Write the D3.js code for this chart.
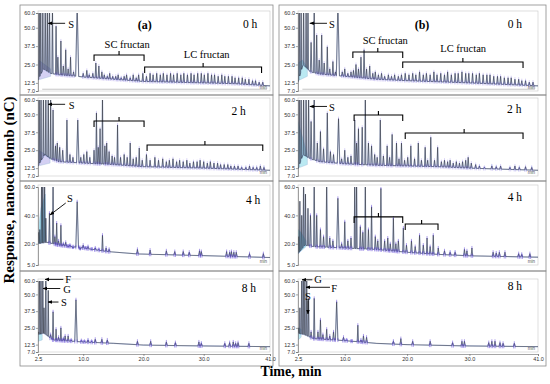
<!DOCTYPE html>
<html><head><meta charset="utf-8">
<script src="https://cdn.jsdelivr.net/npm/d3@7"></script>
<style>body{margin:0;background:#fff}svg{display:block}</style>
</head><body><svg width="550" height="384"></svg>
<script>
// axis ticks
const xTicks = [2.5, 10, 20, 30, 41];
const yTicks = [7, 12.5, 25, 37.5, 50, 60];
const yTicks4h = [5, 20, 40, 60];

// peaks: [time (min), response (nC), half width]
const peaksA0 = [[2.7,70,0.08],[2.95,70,0.08],[3.3,66,0.08],[3.7,70,0.1],[4.05,62,0.08],[4.4,70,0.1],[4.9,64,0.1],[5.5,51,0.1],[5.8,30],[6.3,41,0.1],[6.7,24],[7.1,35,0.1],[7.5,22],[7.9,30,0.1],[8.4,20],[9.0,66,0.25],
  [10.0,19],[10.6,21],[11.0,18],[11.6,19],[12.1,26],[12.6,24],[13.1,20],[13.5,18],[14.0,17],[14.4,19],[14.9,17],[15.4,17],[15.8,18],[16.3,16],[16.8,17],[17.2,18],[17.8,16],[18.3,18],[18.8,16],[19.2,18],
  [19.9,19],[20.5,17],[21.1,19],[21.6,18],[22.2,19],[22.8,18],[23.3,19],[23.9,18],[24.5,19],[25.0,18],[25.6,19],[26.2,18],[26.7,19],[27.3,18],[27.9,19],[28.4,18],[29.0,19],[29.6,19],[30.1,18],[30.7,19],[31.3,18],[31.8,18],[32.4,17],[33.0,18],[33.5,17],[34.1,17],[34.7,17],[35.2,16],[35.8,16],[36.4,16],[36.9,15],[37.5,15],[38.1,14],[38.6,14],[39.2,13],[39.8,13]];
const baseA0 = [[2.5,14.5],[3.4,22],[4.6,19],[6,18],[9,17],[10,16.5],[15,15],[20,13.5],[30,12.5],[35,12],[41,10.5]];
const fillA0 = [[2.5,14.5],[2.6,28],[4.6,22],[4.6,17]];

const peaksB0 = [[2.7,70,0.08],[3.0,70,0.08],[3.4,70,0.08],[3.8,66,0.08],[4.1,70,0.08],[4.6,40],[5.1,66,0.1],[5.5,45,0.1],[5.9,28],[6.3,45,0.1],[6.7,26],[7.2,37,0.1],[7.6,22],[8.1,27,0.1],[8.5,20],[8.9,66,0.25],
  [9.6,20],[10.0,22],[10.5,19],[11.0,20],[11.4,21],[11.8,25],[12.2,22],[12.6,30],[13.1,35],[13.5,22],[14.0,24],[14.5,19],[14.9,20],[15.4,18],[15.9,19],[16.4,17],[17.0,18],[17.5,17],[18.0,18],[18.6,17],[19.1,18],
  [19.7,19],[20.3,18],[20.9,19],[21.4,18],[22.0,20],[22.6,18],[23.1,19],[23.7,18],[24.3,20],[24.8,18],[25.4,19],[26.0,18],[26.5,20],[27.1,18],[27.7,19],[28.2,19],[28.8,20],[29.4,19],[29.9,19],[30.5,19],[31.1,18],[31.6,19],[32.2,18],[32.8,18],[33.3,18],[33.9,17],[34.5,17],[35.0,17],[35.6,16],[36.2,16],[36.7,16],[37.3,15],[37.9,15],[38.4,14],[39.0,14],[39.6,13],[40.2,13]];
const baseB0 = [[2.5,13],[3.3,25],[4.5,20],[6,18.5],[10,17],[15,15],[20,14],[30,12.5],[41,10.5]];
const fillB0 = [[2.5,14],[2.5,26],[3.2,28],[4.0,23],[4.0,17]];

const peaksA1 = [[2.7,70,0.08],[3.0,70,0.08],[3.4,70,0.08],[3.8,70,0.08],[4.2,66,0.08],[4.6,60,0.08],[5.0,53,0.1],[5.4,28],[5.7,30],[6.1,27],[6.6,25],[7.3,46,0.12],[7.8,22],[8.3,20],[9.1,46,0.2],[9.6,20],[10.1,22],[10.6,24],[11.1,20],[11.8,25],[12.2,51,0.1],[12.5,27],[12.8,40,0.1],[13.2,66,0.08],[13.6,28],[13.9,30],[14.3,24],[14.8,21],[15.2,20],[15.7,42.6,0.1],[16.2,20],[16.8,22],[17.3,20],[17.8,30,0.1],[18.3,19],[18.8,20],[19.3,26.5,0.1],[19.8,18],
  [20.5,22],[21.1,18],[21.9,20],[22.5,18],[23.2,19],[23.8,17],[24.3,18],[24.9,19],[25.5,17],[26.0,18],[26.6,17],[27.2,18],[27.7,16],[28.3,17],[28.9,17],[29.4,18],[30.0,17],[30.6,16],[31.1,17],[31.7,16],[32.3,16],[32.8,15],[33.4,15],[34.0,15],[34.5,14],[35.1,14],[35.7,14],[36.3,13],[37.0,13],[37.6,14],[38.2,13],[38.8,13],[39.4,14],[40.0,13]];
const baseA1 = [[2.5,14],[3.6,22],[4.6,19],[6,17],[10,16],[15,15],[20,13.5],[30,12.5],[41,11]];
const fillA1 = [[2.5,14],[2.6,25],[4.5,20],[4.5,16]];

const peaksB1 = [[2.7,70,0.08],[3.0,70,0.08],[3.4,70,0.08],[3.8,70,0.08],[4.2,66,0.08],[4.6,45],[5.1,66,0.1],[5.6,30],[6.1,38,0.1],[6.6,26],[7.2,51,0.12],[7.7,24],[8.2,22],[9.0,47,0.2],[9.5,19],[10.0,25],[10.5,20],[11.0,21],[11.6,46,0.1],[11.9,30],[12.2,40,0.1],[12.8,41,0.1],[13.3,66,0.08],[13.8,30],[14.3,28],[14.8,22],[15.2,20],[15.7,46,0.1],[16.2,21],[16.8,28,0.1],[17.2,20],[17.6,36,0.1],[18.3,30,0.1],[18.7,19],[19.1,30,0.1],[19.6,18],
  [20.1,20],[20.6,28,0.1],[21.2,19],[21.8,30,0.1],[22.3,18],[22.9,27,0.1],[23.3,18],[23.8,34,0.1],[24.4,18],[24.9,27,0.1],[25.5,17],[26.0,18],[26.5,17],[26.9,18],[27.4,16],[27.9,17],[28.4,16],[28.9,17],[29.4,18],[29.8,20],[30.3,16],[31.0,15],[31.6,14],[32.4,13],[33.6,14],[34.3,13.5],[35.0,14],[36.5,13],[37.3,14],[38.0,13],[39.0,13.5],[40.0,13]];
const baseB1 = [[2.5,12],[3.3,22],[4.5,19],[6,17],[10,15.5],[15,14.5],[20,14],[25,13.5],[30,12.5],[41,11]];
const fillB1 = [[2.5,12.5],[2.5,45],[4.0,22],[4.0,15]];

const peaksA2 = [[2.6,28,0.08],[2.8,30,0.08],[3.1,70,0.08],[3.3,70,0.08],[3.6,66,0.08],[3.8,38,0.08],[4.4,41.5,0.1],[5.0,66,0.1],[5.3,25],[5.6,34.6,0.1],[5.9,22],[6.3,33,0.1],[6.7,20],[7.1,21],[7.5,18],[7.8,19],[8.3,17],[9.0,49.6,0.22],[9.5,16],[10.0,19],[10.4,17],[10.8,18],[11.4,16],[12.0,17],[12.6,16],[13.2,26,0.1],[13.8,17],[14.3,16],
  [19.0,16],[21.1,15.5],[23.8,15],[25.2,14.5],[26.6,14.5],[27.6,14],[29.3,15],[29.6,14.5],[33.8,14.5],[34.3,14],[34.6,14.5],[35.0,14],[35.4,14],[37.6,13],[39.9,13]];
const baseA2 = [[2.5,20],[4,21],[6,19],[8,18],[10,17],[14,14.5],[19,12.8],[30,11.6],[41,10.3]];
const fillA2 = [[2.6,20],[2.7,35],[3.0,45],[3.7,55],[3.8,22]];

const peaksB2 = [[2.6,25,0.08],[2.8,50,0.08],[3.1,40,0.08],[3.4,70,0.08],[3.7,55,0.08],[4.1,45,0.08],[4.5,40],[5.1,66,0.1],[5.5,40,0.1],[6.1,30,0.1],[6.6,25],[7.1,66,0.1],[7.6,24],[8.1,22],[8.9,52,0.2],[9.5,20],[10.0,35.5,0.1],[10.5,22],[11.0,24],[11.6,66,0.08],[11.9,66,0.08],[12.5,32,0.1],[12.9,28],[13.3,66,0.08],[13.8,30,0.1],[14.3,46,0.1],[14.9,25],[15.3,22],[15.8,59,0.1],[16.4,22],[16.9,24],[17.3,20],[17.8,38,0.1],[18.2,20],[18.6,22],[19.4,31,0.1],[19.9,19],
  [20.7,22],[21.3,18],[22.0,26,0.1],[22.6,19],[23.2,24,0.1],[23.7,18],[24.2,26,0.1],[25.0,17],[26.0,15],[26.9,14],[27.7,14],[29.2,16],[29.6,15],[30.4,17],[33.8,14],[34.3,13.5],[34.8,14],[35.7,14],[37.9,13],[38.4,12.5],[39.7,13]];
const baseB2 = [[2.5,13],[3.6,19],[5,18],[10,17],[15,16],[20,14],[25,12.5],[30,11.5],[41,10.5]];
const fillB2 = [[2.5,13],[2.5,30],[3.0,28],[3.8,22],[3.8,18]];

const peaksA3 = [[2.6,22,0.06],[2.75,70,0.08],[3.0,70,0.08],[3.3,70,0.08],[3.5,40,0.08],[3.8,62,0.08],[4.2,53,0.08],[4.6,20],[5.0,37,0.1],[5.5,24,0.08],[5.9,18],[6.3,25,0.1],[6.7,17],[7.0,19],[7.5,19],[8.0,16],[8.8,46,0.2],[9.7,15.5],[10.2,15],[10.8,16],[11.4,15],[12.0,16.5],[13.1,16.5],[14.0,16],
  [19.0,15],[21.2,15],[23.8,14.5],[25.3,14],[29.2,14.5],[29.6,13.5],[33.5,13.5],[34.3,14],[34.9,14.5],[35.3,13.5],[35.7,14],[37.5,13.5]];
const baseA3 = [[2.5,20],[3.5,21],[5,16],[10,14.5],[15,13.5],[20,12.2],[30,11.5],[41,11]];
const fillA3 = [[2.5,15],[2.6,22],[3.2,20],[3.2,16]];

const peaksB3 = [[2.6,25,0.06],[2.8,40,0.06],[3.1,70,0.08],[3.35,70,0.08],[3.6,70,0.08],[3.9,60,0.08],[4.2,47,0.08],[4.6,22],[5.1,47,0.1],[5.7,22],[6.1,31,0.1],[6.5,20],[7.1,24,0.1],[7.6,19],[8.2,22],[8.7,44.5,0.2],[9.8,18],[10.3,16],[11.1,15],[12.1,27,0.1],[12.6,16],[13.0,19],[13.5,18],
  [17.8,15],[19.0,17],[20.9,15],[23.7,15],[27.3,14],[28.8,15],[29.2,15],[33.1,14],[33.6,15],[34.1,15],[34.9,14],[35.4,13.5],[37.2,13.5]];
const baseB3 = [[2.5,21],[3.5,20],[5,17],[10,15.5],[15,13.5],[20,12.5],[30,11.5],[41,11]];
const fillB3 = [[2.5,16],[2.6,25],[3.0,24],[3.0,18]];

const svg = d3.select("svg");
const serif = "'Liberation Serif', 'DejaVu Serif', serif";
const W0 = 0.12; // default peak half width, min

const cols = [{x0: 38, x1: 270, fx: 20, fw: 253}, {x0: 298, x1: 538, fx: 279, fw: 267}];
const rows = [{y0: 13, y1: 91, fy: 5, fh: 90}, {y0: 100, y1: 176, fy: 95, fh: 86},
              {y0: 187, y1: 265, fy: 181, fh: 90}, {y0: 281, y1: 352, fy: 271, fh: 95}];

// annotations in data units: text [label, t, v], arrows [t0, v0, t1, v1], brackets [t0, t1, v]
const panels = [
  {c: 0, r: 0, peaks: peaksA0, base: baseA0, fill: fillA0, fillColor: "#c9c4f0", ticks: yTicks, gray: true,
   text: [["S", 8.0, 52.5], ["0 h", 37.7, 52.5], ["SC fructan", 17.3, 39], ["LC fructan", 30.5, 32]], bold: [["(a)", 20.2, 51.8]],
   arrows: [[7.0, 53, 4.2, 53]], brackets: [[11.8, 20.1, 31.5], [20.2, 39.6, 23.3]]},
  {c: 1, r: 0, peaks: peaksB0, base: baseB0, fill: fillB0, fillColor: "#a9e4ef", ticks: yTicks, gray: true,
   text: [["S", 7.95, 52.5], ["0 h", 37.3, 52.5], ["SC fructan", 16.5, 41.7], ["LC fructan", 29.0, 36.2]], bold: [["(b)", 22.4, 51.8]],
   arrows: [[7.15, 53, 4.4, 53]], brackets: [[11.3, 19.3, 33.5], [19.3, 38.6, 26.7]]},
  {c: 0, r: 1, peaks: peaksA1, base: baseA1, fill: fillA1, fillColor: "#c9c4f0", ticks: yTicks,
   text: [["S", 8.1, 56.5], ["2 h", 35.8, 52.3]], bold: [],
   arrows: [[7.0, 57, 4.2, 57]], brackets: [[11.8, 20.1, 45.4], [20.6, 39.8, 28.6]]},
  {c: 1, r: 1, peaks: peaksB1, base: baseB1, fill: fillB1, fillColor: "#a9e4ef", ticks: yTicks,
   text: [["S", 7.95, 55], ["2 h", 37.2, 53.7]], bold: [],
   arrows: [[7.15, 55.5, 4.4, 55.5]], brackets: [[11.5, 19.3, 49.5], [19.7, 38.6, 37]]},
  {c: 0, r: 2, peaks: peaksA2, base: baseA2, fill: fillA2, fillColor: "#8fdde9", ticks: yTicks4h,
   text: [["S", 7.8, 52.2], ["4 h", 38.2, 50.8]], bold: [],
   arrows: [[7.1, 48.7, 4.5, 40.3]], brackets: []},
  {c: 1, r: 2, peaks: peaksB2, base: baseB2, fill: fillB2, fillColor: "#8fdde9", ticks: yTicks4h,
   text: [["4 h", 37.3, 53]], bold: [],
   arrows: [], brackets: [[11.5, 19.3, 38.9], [19.7, 24.96, 33.9]]},
  {c: 0, r: 3, peaks: peaksA3, base: baseA3, fill: fillA3, fillColor: "#a9e4ef", ticks: yTicks, xAxis: true,
   text: [["F", 7.5, 61.6], ["G", 7.3, 53.6], ["S", 6.8, 43.8], ["8 h", 37.5, 54.8]], bold: [],
   arrows: [[6.7, 61.2, 3.66, 61.2], [6.2, 54.4, 3.33, 54.4], [5.9, 44.3, 4.16, 44.3]], brackets: []},
  {c: 1, r: 3, peaks: peaksB3, base: baseB3, fill: fillB3, fillColor: "#a9e4ef", ticks: yTicks, xAxis: true,
   text: [["G", 5.7, 60.9], ["F", 8.3, 54.4], ["S", 4.1, 48.3], ["8 h", 37.3, 56]], bold: [],
   arrows: [[4.8, 60.9, 3.14, 60.9], [7.63, 55.3, 3.78, 55.3], [4.1, 45.6, 4.1, 35.4]], brackets: []}
];

// arrow head
svg.append("defs").append("marker")
  .attr("id", "ah").attr("viewBox", "0 0 10 10").attr("refX", 9).attr("refY", 5)
  .attr("markerWidth", 5).attr("markerHeight", 5).attr("orient", "auto")
  .append("path").attr("d", "M0,1L10,5L0,9Z").attr("fill", "#000");

panels.forEach((p, i) => {
  const c = cols[p.c], r = rows[p.r];
  const x = d3.scaleLinear().domain([2.5, 41]).range([c.x0, c.x1]);
  const y = d3.scaleLinear().domain([p.ticks[0], 60]).range([r.y1, r.y0]);
  const g = svg.append("g");

  // panel frame and plot box
  g.append("rect").attr("x", c.fx).attr("y", r.fy).attr("width", c.fw).attr("height", r.fh)
    .attr("fill", "none").attr("stroke", "#8a8a8a").attr("stroke-width", 0.8);
  g.append("rect").attr("x", c.x0).attr("y", r.y0 - 2).attr("width", c.x1 - c.x0).attr("height", r.y1 - r.y0 + 2)
    .attr("fill", "none").attr("stroke", "#c8c8c8").attr("stroke-width", 0.6);

  g.append("clipPath").attr("id", "clip" + i).append("rect")
    .attr("x", c.x0).attr("y", r.y0).attr("width", c.x1 - c.x0).attr("height", r.y1 - r.y0);
  const plot = g.append("g").attr("clip-path", `url(#clip${i})`);

  // build trace from baseline knots and peaks
  const baseAt = d3.scaleLinear().domain(p.base.map(d => d[0])).range(p.base.map(d => d[1])).clamp(true);
  const pts = [];
  p.peaks.forEach(([t, h, w = W0]) => {
    pts.push([t - w, baseAt(t - w)], [t, h], [t + w, baseAt(t + w)]);
  });
  p.base.forEach(([t, v]) => {
    if (!p.peaks.some(([pt, , w = W0]) => Math.abs(pt - t) < w + 0.05)) pts.push([t, v]);
  });
  pts.sort((a, b) => a[0] - b[0]);
  const line = d3.line().x(d => x(d[0])).y(d => y(d[1]));

  if (p.gray) {
    plot.append("line").attr("x1", x(3.2)).attr("x2", x(40.5)).attr("y1", y(8.2)).attr("y2", y(8.2))
      .attr("stroke", "#c4c4c4").attr("stroke-width", 1);
  }
  plot.append("path").datum(p.fill).attr("d", line.curve(d3.curveLinearClosed))
    .attr("fill", p.fillColor).attr("fill-opacity", 0.8).attr("stroke", "#9ab8d8").attr("stroke-width", 0.4);
  line.curve(d3.curveLinear);

  plot.append("path").datum(pts).attr("d", line)
    .attr("fill", "none").attr("stroke", "#6b8be0").attr("stroke-opacity", 0.45).attr("stroke-width", 1.2);
  plot.append("path").datum(pts).attr("d", line)
    .attr("fill", "none").attr("stroke", "#222").attr("stroke-width", 0.5);

  // peak markers
  const marks = p.peaks.filter(d => d[1] < 60 && d[0] > 4.3);
  plot.selectAll(".pm").data(marks).enter().append("path")
    .attr("d", ([t, h, w = W0]) => {
      const a = x(t - w), b = x(t + w), yb = y(baseAt(t));
      return `M${a},${yb - 2}V${yb + 2}M${b},${yb - 2}V${yb + 2}M${x(t)},${y(h) - 2}V${y(h) + 1}`;
    })
    .attr("stroke", "#5a3fd6").attr("stroke-width", 0.6).attr("fill", "none")
    .attr("opacity", p.r >= 2 ? 0.85 : 0.4);

  // axes
  const ya = g.append("g").attr("transform", `translate(${c.x0},0)`)
    .call(d3.axisLeft(y).tickValues(p.ticks).tickSize(2).tickPadding(1).tickFormat(d3.format(".1f")));
  ya.selectAll("text").attr("font-size", 5.5).attr("font-family", "'Liberation Sans', Arial, sans-serif").attr("fill", "#333");
  ya.selectAll("line, path").attr("stroke", "#666").attr("stroke-width", 0.6);

  if (p.xAxis) {
    const xa = g.append("g").attr("transform", `translate(0,${r.y1 + 2})`)
      .call(d3.axisBottom(x).tickValues(xTicks).tickSize(2).tickPadding(1).tickFormat(d3.format(".1f")));
    xa.selectAll("text").attr("font-size", 5.5).attr("font-family", "'Liberation Sans', Arial, sans-serif").attr("fill", "#333");
    xa.selectAll("line, path").attr("stroke", "#666").attr("stroke-width", 0.6);
  }

  g.append("text").attr("x", c.x1 - 3).attr("y", r.y1 - 2).attr("text-anchor", "end")
    .attr("font-size", 4.5).attr("font-family", "'Liberation Sans', sans-serif").attr("fill", "#555").text("min");

  // annotations
  p.brackets.forEach(([t0, t1, v]) => {
    const a = x(t0), b = x(t1), yy = y(v), m = (a + b) / 2;
    g.append("path").attr("d", `M${a},${yy + 6}V${yy}H${b}V${yy + 6}M${m},${yy}V${yy - 4}`)
      .attr("fill", "none").attr("stroke", "#000").attr("stroke-width", 1.1);
  });
  p.arrows.forEach(([t0, v0, t1, v1]) => {
    g.append("line").attr("x1", x(t0)).attr("y1", y(v0)).attr("x2", x(t1)).attr("y2", y(v1))
      .attr("stroke", "#000").attr("stroke-width", 0.9).attr("marker-end", "url(#ah)");
  });
  p.text.forEach(([s, t, v]) => {
    g.append("text").attr("x", x(t)).attr("y", y(v)).attr("dy", "0.35em").attr("text-anchor", "middle")
      .attr("font-family", serif).attr("font-size", s.length > 3 ? 10.5 : (s.length === 1 ? 10.5 : 11.5)).text(s);
  });
  p.bold.forEach(([s, t, v]) => {
    g.append("text").attr("x", x(t)).attr("y", y(v)).attr("dy", "0.35em").attr("text-anchor", "middle")
      .attr("font-family", serif).attr("font-weight", "bold").attr("font-size", 12).text(s);
  });
});

svg.append("text").attr("transform", "translate(14,190) rotate(-90)").attr("text-anchor", "middle")
  .attr("font-family", serif).attr("font-weight", "bold").attr("font-size", 15)
  .text("Response, nanocoulomb (nC)");
svg.append("text").attr("x", 291).attr("y", 376).attr("text-anchor", "middle")
  .attr("font-family", serif).attr("font-weight", "bold").attr("font-size", 14)
  .text("Time, min");
</script>
</body></html>
